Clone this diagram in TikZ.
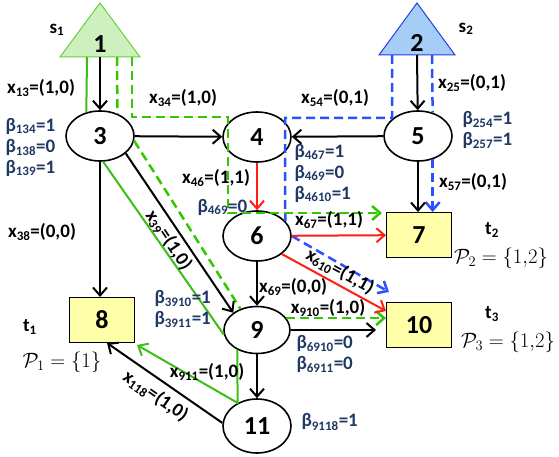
\documentclass[tikz,border=0pt]{standalone}
\usepackage{fontspec}
\setmainfont{Carlito}
\usepackage{amsmath}
\usetikzlibrary{shapes.geometric,arrows.meta}

\definecolor{glink}{RGB}{60,190,20}
\definecolor{gdashc}{RGB}{50,200,0}
\definecolor{blink}{RGB}{45,80,255}
\definecolor{rlink}{RGB}{255,30,20}
\definecolor{srcone}{RGB}{205,240,190}
\definecolor{srconeline}{RGB}{100,210,60}
\definecolor{srctwo}{RGB}{165,205,245}
\definecolor{srctwoline}{RGB}{40,60,230}
\definecolor{sinkfill}{RGB}{255,255,170}
\definecolor{betac}{RGB}{31,56,100}

\newcommand{\lowsub}[1]{\textsubscript{\fontsize{13}{13}\selectfont #1}}

\begin{document}
\begin{tikzpicture}[x=1pt, y=-1pt,
		>={Straight Barb[length=8pt,width=14pt]},
		every node/.style={font=\fontsize{19}{21}\selectfont\bfseries},
		num/.style={font=\fontsize{26}{26}\selectfont\bfseries},
		relay/.style={draw, ellipse, line width=1.6pt, minimum width=68pt, minimum height=50pt, inner sep=0pt, num},
		sink/.style={draw, rectangle, line width=1pt, fill=sinkfill, minimum width=65pt, minimum height=45pt, num},
		blab/.style={text=betac, anchor=west, align=left},
		pset/.style={font=\fontsize{20}{20}\selectfont\mdseries},
		link/.style={line width=2pt, ->},
		rlinkst/.style={line width=2pt, ->, draw=rlink},
		gsolid/.style={line width=2pt, draw=glink},
		gdash/.style={line width=2.5pt, draw=gdashc, dash pattern=on 9pt off 5pt},
		bdash/.style={line width=2.5pt, draw=blink, dash pattern=on 9pt off 5pt}]
	\useasboundingbox (0,0) rectangle (559,457);

	% sources
	\draw[fill=srcone, draw=srconeline, line width=1pt] (100,3) -- (140,57) -- (60,57) -- cycle;
	\draw[fill=srctwo, draw=srctwoline, line width=1pt] (417,3) -- (455,55) -- (379,55) -- cycle;
	\node[num] (n1) at (100,44) {1};
	\node[num] (n2) at (417,43) {2};
	\coordinate (b1) at (100,57);
	\coordinate (b2) at (417,55);

	% relays and sinks
	\node[relay] (n3) at (100,136) {3};
	\node[relay] (n4) at (257,137) {4};
	\node[relay] (n5) at (418,136) {5};
	\node[relay] (n6) at (257,236) {6};
	\node[relay, minimum width=66pt, minimum height=47pt] (n9) at (257,330) {9};
	\node[relay, minimum height=54pt] (n11) at (257,426) {11};
	\node[sink] (n7) at (419,235) {7};
	\node[sink] (n8) at (102,320) {8};
	\node[sink] (n10) at (419,325) {10};

	% route corners
	\coordinate (g4) at (228,117);
	\coordinate (g6) at (228,213);
	\coordinate (bl4) at (285,118);

	% green paths
	\draw[gsolid] ([xshift=-13pt]b1) -- (n3.120);
	\draw[gsolid] (n3.-83) -- (n9.188);
	\draw[gsolid, ->] (n9.-135) -- (n11.130) -- ([xshift=2pt,yshift=-2pt]n8.south east);
	\draw[gdash] ([xshift=17pt]b1) -- (n3.52);
	\draw[gdash] (n3.-8) -- (n9.128);
	\draw[gdash, ->] (n9.22.5) -- (n9.22.5 -| n10.west);
	\draw[gdash, ->, shorten >=4pt] ([xshift=32pt]b1) |- (g4) -- (g6) -- (g6 -| n7.west);

	% blue paths
	\draw[bdash] ([xshift=-25pt]b2) |- (bl4) -- (n6.28);
	\draw[bdash, ->] (n6.east) -- ([xshift=3pt,yshift=10pt]n10.north west);
	\draw[bdash] ([xshift=15pt]b2) -- (n5.58);
	\draw[bdash, ->] (n5.-58) -- (n5.-58 |- n7.north);

	% black links
	\draw[link] (b1) -- (n3);
	\draw[link] (b2) -- (n5);
	\draw[link] (n3) -- (n4);
	\draw[link] (n5) -- (n4);
	\draw[link] (n5) -- (n5 |- n7.north);
	\draw[link] (n3) -- (n3 |- n8.north);
	\draw[link] (n3.-34) -- node[sloped, below] (l39) {x\lowsub{39}=(1,0)} (n9.144);
	\draw[link] (n6) -- (n9);
	\draw[link] (n9.east) -- ([xshift=-10pt]n9.east -| n10.west);
	\draw[link] (n9) -- (n11);
	\draw[link] (n11.175) -- node[sloped, below=3pt] (l118) {x\lowsub{118}=(1,0)} ([xshift=5pt]n8.south);

	% red links
	\draw[rlinkst] (n4) -- (n6);
	\draw[rlinkst] (n6) -- (n7);
	\draw[rlinkst] (n6.-36) -- node[sloped, above] (l610) {x\lowsub{610}=(1,1)} ([yshift=-9pt]n10.north west);

	% flow labels
	\node (l13) at (41,88) {x\lowsub{13}=(1,0)};
	\node (l34) at (183,98) {x\lowsub{34}=(1,0)};
	\node (l54) at (335,98) {x\lowsub{54}=(0,1)};
	\node (l25) at (472,83) {x\lowsub{25}=(0,1)};
	\node (l57) at (473,182) {x\lowsub{57}=(0,1)};
	\node (l46) at (216,178) {x\lowsub{46}=(1,1)};
	\node (l67) at (329,220) {x\lowsub{67}=(1,1)};
	\node (l38) at (42,232) {x\lowsub{38}=(0,0)};
	\node (l69) at (293,287) {x\lowsub{69}=(0,0)};
	\node (l910) at (328,308) {x\lowsub{910}=(1,0)};
	\node (l911) at (207,372) {x\lowsub{911}=(1,0)};

	% beta labels
	\node[blab] (be3) at (2,147) {β\lowsub{134}=1\\β\lowsub{138}=0\\β\lowsub{139}=1};
	\node[blab] (be4a) at (194,207) {β\lowsub{469}=0};
	\node[blab] (be4) at (291,173) {β\lowsub{467}=1\\β\lowsub{469}=0\\β\lowsub{4610}=1};
	\node[blab] (be5) at (459,130) {β\lowsub{254}=1\\β\lowsub{257}=1};
	\node[blab] (be39) at (151,309) {β\lowsub{3910}=1\\β\lowsub{3911}=1};
	\node[blab] (be69) at (293,354) {β\lowsub{6910}=0\\β\lowsub{6911}=0};
	\node[blab] (be911) at (298,422) {β\lowsub{9118}=1};

	% sources and sinks
	\node (s1) at (57,30) {s\lowsub{1}};
	\node (s2) at (466,29) {s\lowsub{2}};
	\node (t1) at (30,327) {t\lowsub{1}};
	\node (t2) at (492,230) {t\lowsub{2}};
	\node (t3) at (492,314) {t\lowsub{3}};
	\node[pset] (p1) at (62,362) {$\mathcal{P}_1=\{1\}$};
	\node[pset] (p2) at (501,258) {$\mathcal{P}_2=\{1{,}2\}$};
	\node[pset] (p3) at (508,342) {$\mathcal{P}_3=\{1{,}2\}$};
\end{tikzpicture}
\end{document}
